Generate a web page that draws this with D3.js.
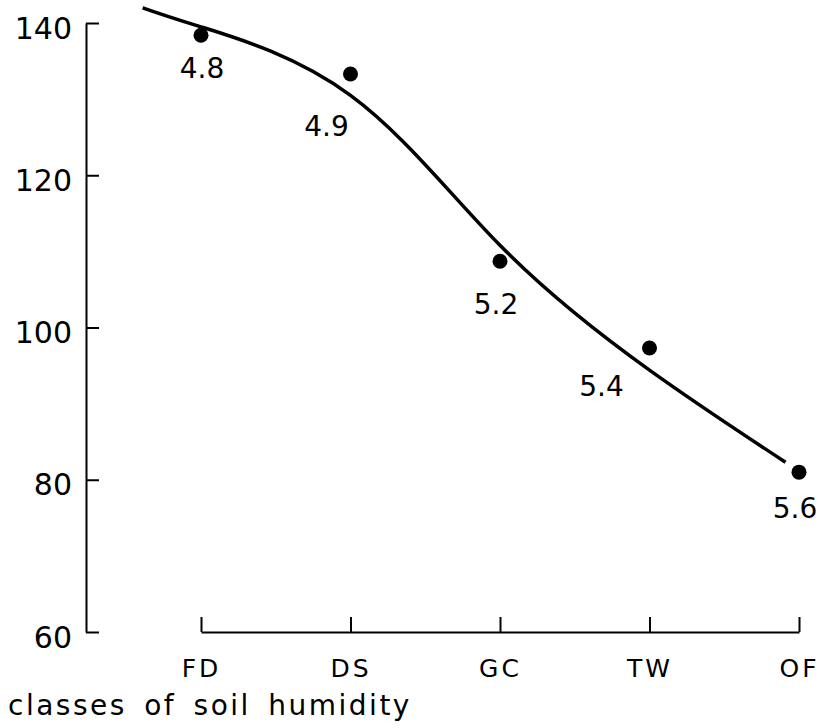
<!DOCTYPE html>
<html>
<head>
<meta charset="utf-8">
<script src="https://cdn.jsdelivr.net/npm/d3@7"></script>
<style>
  body { margin: 0; background: #fff; }
  svg { display: block; }
  text { font-family: "DejaVu Sans", sans-serif; fill: #000; }
</style>
</head>
<body>
<div id="chart"></div>
<script>
// soil humidity classes (dry -> wet)
var categories = ["FD", "DS", "GC", "TW", "OF"];
// measured values, one per class
var values = [138.4, 133.3, 108.7, 97.3, 81.0];
// pH label beside each point
var phLabels = ["4.8", "4.9", "5.2", "5.4", "5.6"];

// hand-fitted curve, read at class positions (index 0..4)
var curveIndex = [-0.39, 0, 1, 2, 3, 3.91];
var curveValue = [142.0, 139.5, 130.5, 110.8, 94.4, 82.3];

var yTicks = [60, 80, 100, 120, 140];
var xTitle = "classes of soil humidity";

var width = 821, height = 728;

// label offsets from each dot (dx, baseline dy)
var labelOffset = [[1, 43], [-24, 62], [-4, 53], [-48, 48], [-4, 46]];

var svg = d3.select("#chart").append("svg")
    .attr("width", width)
    .attr("height", height);

var x = d3.scaleLinear().domain([0, 4]).range([201, 799]);
var y = d3.scaleLinear().domain([60, 140]).range([632, 23]);

// y axis, ticks pointing inward
var yAxis = svg.append("g")
    .attr("transform", "translate(86,0)")
    .call(d3.axisLeft(y).tickValues(yTicks).tickSize(-13).tickSizeOuter(0).tickPadding(14));
yAxis.selectAll("text")
    .style("font-size", "30px")
    .attr("dy", "0.5em");

// x axis, ticks pointing up
var xAxis = svg.append("g")
    .attr("transform", "translate(0,632)")
    .call(d3.axisBottom(x).tickValues(d3.range(categories.length))
        .tickFormat(function(i) { return categories[i]; })
        .tickSize(-15).tickSizeOuter(0).tickPadding(27));
xAxis.selectAll("text")
    .style("font-size", "25px")
    .style("letter-spacing", "3px")
    .attr("dx", "0px");

svg.selectAll(".domain, .tick line")
    .attr("stroke", "#000")
    .attr("stroke-width", 2);

// fitted curve
var line = d3.line()
    .x(function(d) { return x(d[0]); })
    .y(function(d) { return y(d[1]); })
    .curve(d3.curveNatural);

svg.append("path")
    .datum(d3.zip(curveIndex, curveValue))
    .attr("d", line)
    .attr("fill", "none")
    .attr("stroke", "#000")
    .attr("stroke-width", 3.5);

// points
svg.selectAll("circle.pt")
    .data(values)
    .enter()
    .append("circle")
    .attr("class", "pt")
    .attr("cx", function(d, i) { return x(i); })
    .attr("cy", function(d) { return y(d); })
    .attr("r", 7.5)
    .attr("fill", "#000");

svg.selectAll("text.ph")
    .data(phLabels)
    .enter()
    .append("text")
    .attr("class", "ph")
    .attr("x", function(d, i) { return x(i) + labelOffset[i][0]; })
    .attr("y", function(d, i) { return y(values[i]) + labelOffset[i][1]; })
    .attr("text-anchor", "middle")
    .style("font-size", "28px")
    .text(function(d) { return d; });

svg.append("text")
    .attr("x", 8)
    .attr("y", 715)
    .style("font-size", "28px")
    .style("letter-spacing", "2.5px")
    .style("word-spacing", "6px")
    .text(xTitle);
</script>
</body>
</html>
